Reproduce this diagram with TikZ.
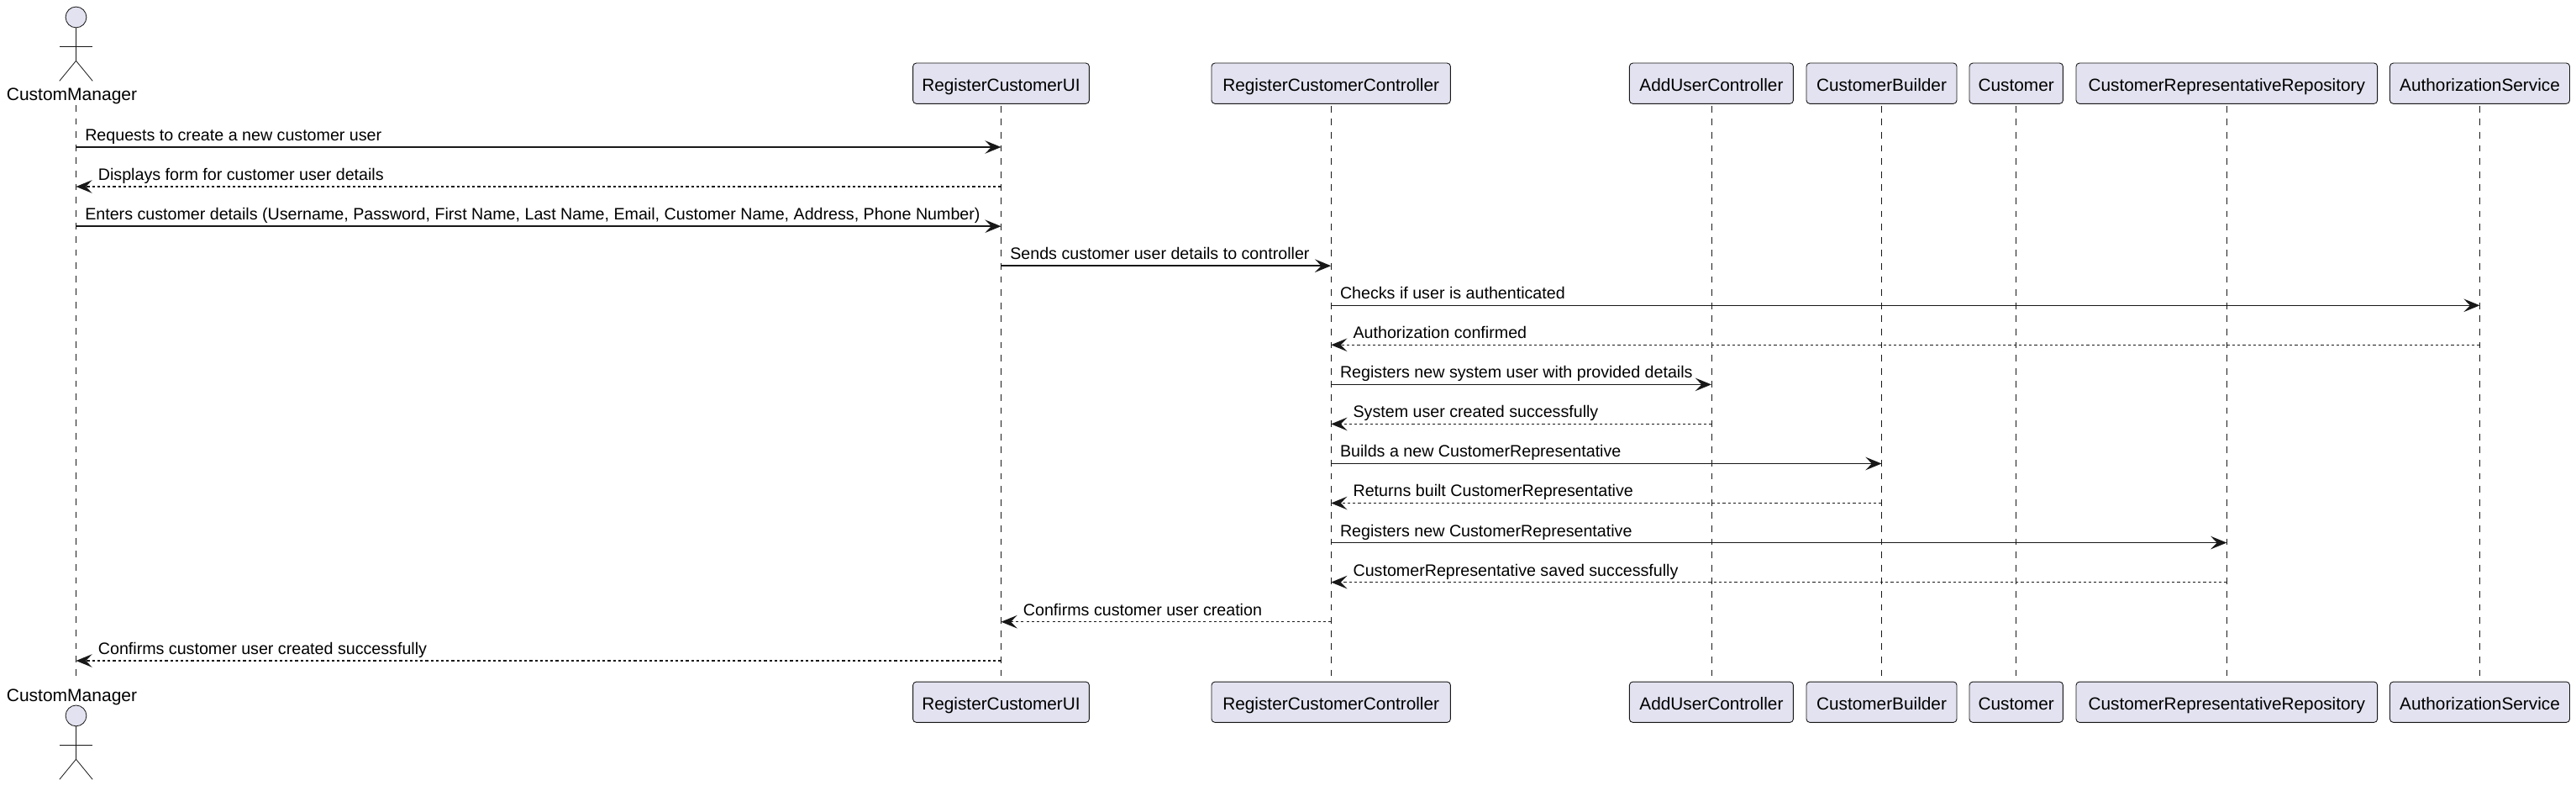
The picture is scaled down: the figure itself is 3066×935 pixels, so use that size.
\documentclass[tikz,border=0pt]{standalone}
\usepackage{fontspec}
\setmainfont{Liberation Sans}
\usetikzlibrary{arrows.meta}
\definecolor{ink}{HTML}{181818}
\definecolor{boxfill}{HTML}{E2E2F0}
\tikzset{
  x=0.5pt,y=-0.5pt,
  pbox/.style={draw=ink,fill=boxfill,line width=0.45pt,rounded corners=2pt,inner sep=0pt,minimum height=24.15pt,text height=11.1pt,text depth=2pt,font=\fontsize{10.4}{12}\selectfont,text=black},
  plabel/.style={inner sep=0pt,font=\fontsize{10.5}{12}\selectfont,text=black,anchor=base},
  lifeline/.style={draw=ink,line width=0.4pt,dash pattern=on 3.9pt off 3.9pt},
  stick/.style={draw=ink,line width=0.4pt,fill=none},
  headc/.style={circle,draw=ink,fill=boxfill,line width=0.4pt,minimum size=12.4pt,inner sep=0pt},
  call/.style={draw=ink,line width=0.72pt,-{Stealth[length=9.6pt,width=7.8pt,inset=3.8pt]}},
  ret/.style={draw=ink,line width=0.72pt,dash pattern=on 1.55pt off 1.55pt,-{Stealth[length=9.6pt,width=7.8pt,inset=3.8pt]}},
  mlabel/.style={inner sep=0pt,font=\fontsize{9.83}{12}\selectfont,text=black,anchor=base west},
}
\newcommand{\callmsg}[5]{% name, from, to, row, text
  \draw[call] (#2 |- #4) -- (#3 |- #4);
  \node[mlabel] (#1) at ([xshift=5.2pt,yshift=3.8pt]#2 |- #4) {#5};}
\newcommand{\retmsg}[5]{%
  \draw[ret] (#2 |- #4) -- (#3 |- #4);
  \node[mlabel] (#1) at ([xshift=13pt,yshift=3.8pt]#3 |- #4) {#5};}
\newcommand{\actorfig}[1]{% head node name
  \draw[stick] (#1.south) -- ++(0,39) coordinate (#1hip);
  \draw[stick] ([yshift=-11pt,xshift=0pt]#1hip |- #1.south) ++(-19.7,0) coordinate (#1l) -- ++(39.4,0) coordinate (#1r);
  \draw[stick] (#1l |- #1hip) ++(0,24) coordinate (#1fl) -- (#1hip) -- (#1r |- #1fl);}
\begin{document}
\begin{tikzpicture}
\path[use as bounding box,fill=white] (0,0) rectangle (3066,935);
% rows
\foreach \i/\yy in {1/175,2/222,3/269.2,4/316.2,5/363.3,6/410.3,7/457.4,8/504.4,9/551.5,10/598.5,11/645.6,12/692.6,13/739.7,14/786}
  \coordinate (r\i) at (0,\yy);
% top participants
\node[headc] (cmT) at (90.5,20.5) {};
\node[plabel] (cmTl) at (85.5,120) {CustomManager};
\node[pbox,minimum width=104.9pt] (uiT) at (1191.5,99.2) {RegisterCustomerUI};
\node[pbox,minimum width=142.2pt] (rcT) at (1584.2,99.2) {RegisterCustomerController};
\node[pbox,minimum width=97.5pt] (auT) at (2036.9,99.2) {AddUserController};
\node[pbox,minimum width=89.5pt] (cbT) at (2239.5,99.2) {CustomerBuilder};
\node[pbox,minimum width=55.7pt] (cuT) at (2399.7,99.2) {Customer};
\node[pbox,minimum width=179.3pt] (rpT) at (2650.3,99.2) {CustomerRepresentativeRepository};
\node[pbox,minimum width=107pt] (asT) at (2951.5,99.2) {AuthorizationService};
% bottom participants
\node[pbox,minimum width=104.9pt] (uiB) at (1191.5,835.2) {RegisterCustomerUI};
\node[pbox,minimum width=142.2pt] (rcB) at (1584.2,835.2) {RegisterCustomerController};
\node[pbox,minimum width=97.5pt] (auB) at (2036.9,835.2) {AddUserController};
\node[pbox,minimum width=89.5pt] (cbB) at (2239.5,835.2) {CustomerBuilder};
\node[pbox,minimum width=55.7pt] (cuB) at (2399.7,835.2) {Customer};
\node[pbox,minimum width=179.3pt] (rpB) at (2650.3,835.2) {CustomerRepresentativeRepository};
\node[pbox,minimum width=107pt] (asB) at (2951.5,835.2) {AuthorizationService};
\node[plabel] (cmBl) at (85.5,834) {CustomManager};
\node[headc] (cmB) at (90.5,851.4) {};
\actorfig{cmT}
\actorfig{cmB}
% lifelines
\coordinate (cmLt) at (90.5,125);
\coordinate (cmLb) at (90.5,808);
\draw[lifeline] (cmLt) -- (cmLb);
\foreach \p in {ui,rc,au,cb,cu,rp,as}
  \draw[lifeline] ([yshift=-1pt]\p T.south) -- ([yshift=1.6pt]\p B.north);
% messages
\callmsg{m1}{cmLt}{uiT}{r1}{Requests to create a new customer user}
\retmsg{m2}{uiT}{cmLt}{r2}{Displays form for customer user details}
\callmsg{m3}{cmLt}{uiT}{r3}{Enters customer details (Username, Password, First Name, Last Name, Email, Customer Name, Address, Phone Number)}
\callmsg{m4}{uiT}{rcT}{r4}{Sends customer user details to controller}
\callmsg{m5}{rcT}{asT}{r5}{Checks if user is authenticated}
\retmsg{m6}{asT}{rcT}{r6}{Authorization confirmed}
\callmsg{m7}{rcT}{auT}{r7}{Registers new system user with provided details}
\retmsg{m8}{auT}{rcT}{r8}{System user created successfully}
\callmsg{m9}{rcT}{cbT}{r9}{Builds a new CustomerRepresentative}
\retmsg{m10}{cbT}{rcT}{r10}{Returns built CustomerRepresentative}
\callmsg{m11}{rcT}{rpT}{r11}{Registers new CustomerRepresentative}
\retmsg{m12}{rpT}{rcT}{r12}{CustomerRepresentative saved successfully}
\retmsg{m13}{rcT}{uiT}{r13}{Confirms customer user creation}
\retmsg{m14}{uiT}{cmLt}{r14}{Confirms customer user created successfully}
\end{tikzpicture}
\end{document}
